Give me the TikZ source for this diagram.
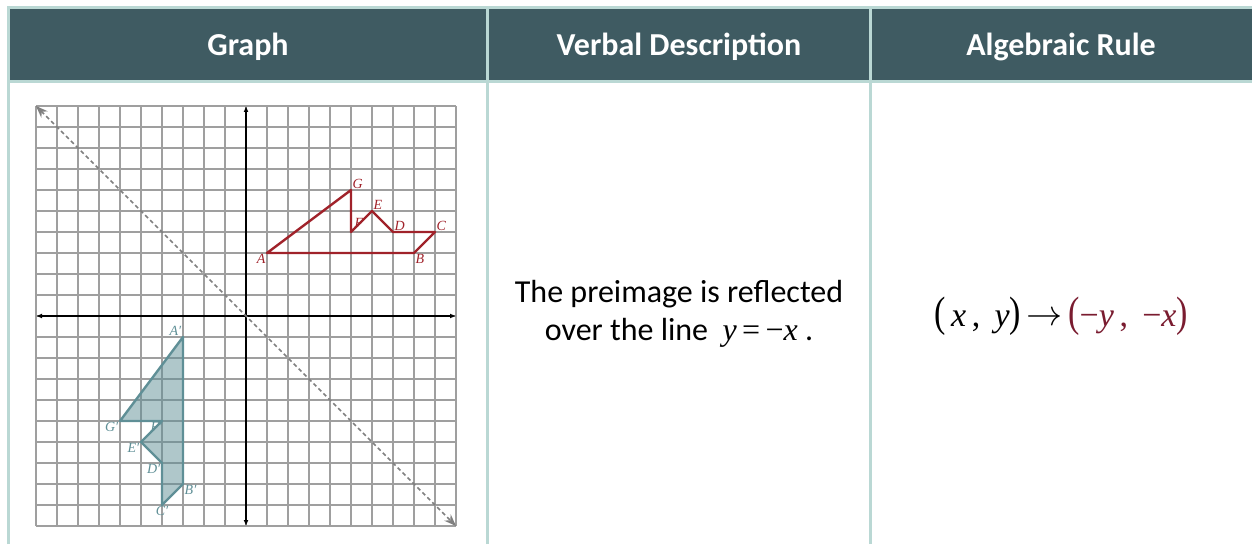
\documentclass[tikz,border=0pt]{standalone}
\usepackage{fontspec}
\setmainfont{Carlito}
\newfontfamily\rulefont{Liberation Serif}
\usetikzlibrary{arrows.meta}
\definecolor{HeadSlate}{HTML}{3F5B62}
\definecolor{RuleMint}{HTML}{BAD8D4}
\definecolor{PreRed}{HTML}{A0222A}
\definecolor{ImgTeal}{HTML}{5F8F96}
\definecolor{MapRed}{HTML}{7A1C30}
\tikzset{head/.style={text=white,font=\fontsize{32}{38}\selectfont\bfseries},
  body/.style={align=center,font=\fontsize{32}{38}\selectfont},
  rulel/.style={RuleMint,line width=3pt},
  gridln/.style={gray!75,line width=1.1pt,step=1},
  axisln/.style={black,line width=1.8pt,{Latex[length=6pt,width=5pt]}-{Latex[length=6pt,width=5pt]}},
  mirror/.style={gray,line width=1.6pt,dash pattern=on 4pt off 3pt,{Stealth[length=12pt,width=9pt]}-{Stealth[length=12pt,width=9pt]}},
  pre/.style={PreRed,line width=2.4pt,line join=round},
  img/.style={ImgTeal,fill=ImgTeal,fill opacity=0.5,line width=2.4pt,line join=round},
  plbl/.style={PreRed,inner sep=1.5pt,font=\rulefont\itshape\fontsize{14}{14}\selectfont},
  ilbl/.style={ImgTeal,inner sep=1.5pt,font=\rulefont\itshape\fontsize{14}{14}\selectfont}}

\begin{document}
\begin{tikzpicture}[x=1pt,y=1pt]
\useasboundingbox (0,0) rectangle (1252,544);
% header row
\fill[HeadSlate] (8,536) rectangle (1252,462);
\node[head] (hgraph) at (248,497) {Graph};
\node[head] (hverbal) at (679,497) {Verbal Description};
\node[head] (hrule) at (1061,497) {Algebraic Rule};
% table lines
\draw[rulel] (8,0) -- (8,536) -- (1252,536);
\draw[rulel] (8,462) -- (1252,462);
\draw[rulel] (487,0) -- (487,536);
\draw[rulel] (870,0) -- (870,536);
% the graph
\begin{scope}[shift={(246pt,228pt)},x=21pt,y=21pt]
\draw[gridln] (-10,-10) grid (10,10);
\coordinate (xl) at (-10,0); \coordinate (xr) at (10,0);
\coordinate (yb) at (0,-10); \coordinate (yt) at (0,10);
\draw[axisln] (xl) -- (xr);
\draw[axisln] (yb) -- (yt);
\coordinate (ml) at (-10,10); \coordinate (mr) at (10,-10);
\draw[mirror] (ml) -- (mr);
% preimage
\coordinate (A) at (1,3); \coordinate (B) at (8,3); \coordinate (C) at (9,4);
\coordinate (D) at (7,4); \coordinate (E) at (6,5); \coordinate (F) at (5,4);
\coordinate (G) at (5,6);
\draw[pre] (A) -- (B) -- (C) -- (D) -- (E) -- (F) -- (G) -- cycle;
\node[plbl,anchor=north east] (lA) at (A) {A};
\node[plbl,anchor=north west] (lB) at (B) {B};
\node[plbl,anchor=south west] (lC) at (C) {C};
\node[plbl,anchor=south west] (lD) at (D) {D};
\node[plbl,anchor=south west] (lE) at (E) {E};
\node[plbl,anchor=south west,xshift=2pt,yshift=3pt] (lF) at (F) {F};
\node[plbl,anchor=south west] (lG) at (G) {G};
% image
\coordinate (A1) at (-3,-1); \coordinate (B1) at (-3,-8); \coordinate (C1) at (-4,-9);
\coordinate (D1) at (-4,-7); \coordinate (E1) at (-5,-6); \coordinate (F1) at (-4,-5);
\coordinate (G1) at (-6,-5);
\draw[img] (A1) -- (B1) -- (C1) -- (D1) -- (E1) -- (F1) -- (G1) -- cycle;
\node[ilbl,anchor=south east] (lA1) at (A1) {A′};
\node[ilbl,anchor=north west] (lB1) at (B1) {B′};
\node[ilbl,anchor=north] (lC1) at (C1) {C′};
\node[ilbl,anchor=north east] (lD1) at (D1) {D′};
\node[ilbl,anchor=north east] (lE1) at (E1) {E′};
\node[ilbl,anchor=north east,xshift=2pt] (lF1) at (F1) {F′};
\node[ilbl,anchor=north east] (lG1) at (G1) {G′};
\end{scope}
% description and rule
\node[body] (verbal) at (679,230) {The preimage is reflected\\over the line \ {\rulefont\itshape y}\,{\rulefont =\,−}{\rulefont\itshape x} .};
\node[font=\rulefont\fontsize{34}{40}\selectfont] (maprule) at (1061,228)
  {\scalebox{1}[1.25]{(}\,\textit{x}\,, \,\textit{y}\scalebox{1}[1.25]{)}\,\raisebox{0.5pt}{\scalebox{1.45}{$\rightarrow$}}\,\textcolor{MapRed}{\scalebox{1}[1.25]{(}−\textit{y}\,, \,−\textit{x}\scalebox{1}[1.25]{)}}};
\end{tikzpicture}
\end{document}
